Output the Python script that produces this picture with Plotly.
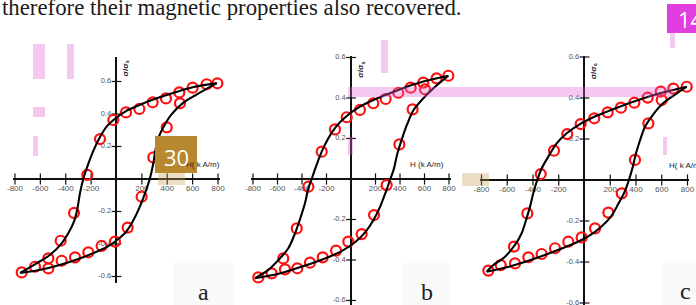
import plotly.graph_objects as go

W, H = 696, 305

# ---------------- data ----------------
x_ticks = [-800, -600, -400, -200, 200, 400, 600, 800]
x_tick_labels = ["-800", "-600", "-400", "-200", "200", "400", "600", "800"]
y_ticks = [0.6, 0.4, 0.2, -0.2, -0.4, -0.6]
y_tick_labels = ["0.6", "0.4", "0.2", "-0.2", "-0.4", "-0.6"]

# panel a
a_pts_up_H = [795, 710, 600, 495, 390, 285, 180, 75, -25, -130, -230, -335, -440, -537, -642, -747]
a_pts_up_S = [0.589, 0.583, 0.562, 0.533, 0.496, 0.472, 0.431, 0.410, 0.363, 0.246, 0.025, -0.209, -0.380, -0.488, -0.540, -0.575]
a_pts_lo_H = [-537, -432, -327, -222, -117, -12, 88, 198, 290, 396, 500]
a_pts_lo_S = [-0.550, -0.503, -0.482, -0.451, -0.412, -0.385, -0.299, -0.109, 0.133, 0.318, 0.466]
a_fit_up_H = [790, 600, 490, 300, 180, 75, -10, -75, -130, -185, -230, -262, -288, -310, -335, -380, -432, -525, -630, -760]
a_fit_up_S = [0.59, 0.565, 0.540, 0.492, 0.455, 0.418, 0.372, 0.325, 0.258, 0.168, 0.076, 0.0, -0.088, -0.191, -0.263, -0.334, -0.396, -0.468, -0.519, -0.578]
a_fit_lo_H = [-760, -600, -490, -300, -180, -75, 10, 75, 130, 185, 230, 262, 288, 310, 335, 380, 432, 525, 630, 790]
a_fit_lo_S = [-0.578, -0.558, -0.538, -0.492, -0.455, -0.418, -0.372, -0.325, -0.258, -0.168, -0.076, 0.0, 0.088, 0.191, 0.263, 0.334, 0.396, 0.468, 0.519, 0.59]

# panel b
b_pts_up_H = [795, 699, 590, 487, 386, 283, 182, 73, -35, -131, -239, -348, -443, -553, -648, -757]
b_pts_up_S = [0.510, 0.497, 0.476, 0.451, 0.426, 0.395, 0.374, 0.341, 0.305, 0.245, 0.135, -0.038, -0.244, -0.392, -0.466, -0.486]
b_pts_lo_H = [-539, -438, -335, -231, -122, -22, 87, 188, 291, 395, 503, 604]
b_pts_lo_S = [-0.446, -0.441, -0.413, -0.387, -0.354, -0.309, -0.272, -0.178, -0.030, 0.171, 0.344, 0.443]
b_fit_up_H = [795, 590, 386, 182, 73, -35, -117, -185, -239, -286, -321, -350, -376, -416, -457, -512, -593, -675, -784]
b_fit_up_S = [0.510, 0.481, 0.440, 0.390, 0.357, 0.311, 0.262, 0.201, 0.135, 0.061, 0.0, -0.05, -0.120, -0.198, -0.268, -0.342, -0.400, -0.449, -0.490]
b_fit_lo_H = [-784, -590, -386, -182, -73, 35, 117, 185, 239, 286, 321, 350, 376, 416, 457, 512, 593, 675, 795]
b_fit_lo_S = [-0.490, -0.468, -0.430, -0.385, -0.355, -0.311, -0.262, -0.201, -0.135, -0.061, 0.0, 0.05, 0.120, 0.198, 0.268, 0.342, 0.400, 0.449, 0.510]

# panel c
c_pts_up_H = [794, 690, 592, 491, 387, 283, 180, 76, -30, -134, -237, -340, -444, -548, -651, -747]
c_pts_up_S = [0.455, 0.446, 0.431, 0.402, 0.377, 0.353, 0.330, 0.301, 0.273, 0.224, 0.143, 0.029, -0.163, -0.325, -0.415, -0.442]
c_pts_lo_H = [-540, -436, -333, -229, -126, -22, 82, 185, 289, 392, 496, 600]
c_pts_lo_S = [-0.407, -0.377, -0.361, -0.333, -0.301, -0.280, -0.236, -0.159, -0.065, 0.098, 0.276, 0.390]
c_fit_up_H = [794, 586, 379, 172, 68, -35, -138, -216, -281, -332, -367, -398, -423, -454, -488, -540, -617, -708, -760]
c_fit_up_S = [0.455, 0.423, 0.382, 0.333, 0.306, 0.273, 0.228, 0.179, 0.114, 0.057, 0.0, -0.065, -0.130, -0.195, -0.260, -0.317, -0.374, -0.415, -0.447]
c_fit_lo_H = [-760, -586, -379, -172, -68, 35, 130, 205, 265, 312, 345, 375, 400, 432, 470, 530, 610, 700, 794]
c_fit_lo_S = [-0.447, -0.423, -0.382, -0.333, -0.306, -0.273, -0.228, -0.179, -0.114, -0.057, 0.0, 0.065, 0.130, 0.195, 0.260, 0.317, 0.374, 0.415, 0.455]

panel_labels = ["a", "b", "c"]
caption = "therefore their magnetic properties also recovered."
x_title = ["H( k A/m)", "H (k A/m)", "H( k A/m)"]

# ---------------- layout geometry ----------------
panels = [
    dict(x0=116.5, sx=0.1269, y0=179, sy=162.5, yr=[-0.64, 0.75],
         pts=(a_pts_up_H, a_pts_up_S, a_pts_lo_H, a_pts_lo_S),
         fit=(a_fit_up_H, a_fit_up_S, a_fit_lo_H, a_fit_lo_S),
         ytitle=(75, 0.68), xtitle=(682, 0.05, "center"), lab=(203, 292), box=(173, 263, 234, 305)),
    dict(x0=351, sx=0.1225, y0=179, sy=202.5, yr=[-0.622, 0.605],
         pts=(b_pts_up_H, b_pts_up_S, b_pts_lo_H, b_pts_lo_S),
         fit=(b_fit_up_H, b_fit_up_S, b_fit_lo_H, b_fit_lo_S),
         ytitle=(82, 0.54), xtitle=(620, 0.04, "center"), lab=(427, 292), box=(402, 263, 449, 305)),
    dict(x0=584.5, sx=0.12875, y0=180, sy=205, yr=[-0.6098, 0.605],
         pts=(c_pts_up_H, c_pts_up_S, c_pts_lo_H, c_pts_lo_S),
         fit=(c_fit_up_H, c_fit_up_S, c_fit_lo_H, c_fit_lo_S),
         ytitle=(74, 0.53), xtitle=(641, 0.04, "left"), lab=(685, 291), box=(663, 263, 696, 305)),
]
XR = [-815, 815]

fig = go.Figure()
shapes = []
annotations = []

xtick_font = dict(family="Liberation Sans, Arial", size=8, color="#555555")
ytick_font = dict(family="Liberation Sans, Arial", size=7.5, color="#555555")
red = "#ff1010"

for i, p in enumerate(panels):
    n = "" if i == 0 else str(i + 1)
    xa, ya = "x" + n, "y" + n
    xdom = [max(0, (p["x0"] + XR[0] * p["sx"]) / W), min(1, (p["x0"] + XR[1] * p["sx"]) / W)]
    ydom = [max(0, 1 - (p["y0"] - p["yr"][0] * p["sy"]) / H), min(1, 1 - (p["y0"] - p["yr"][1] * p["sy"]) / H)]
    common = dict(showgrid=False, showticklabels=False, ticks="", showline=False,
                  zeroline=True, zerolinecolor="#111111", zerolinewidth=1.6, fixedrange=True)
    fig.layout["xaxis" + n] = dict(domain=xdom, range=XR, anchor=ya, **common)
    fig.layout["yaxis" + n] = dict(domain=ydom, range=p["yr"], anchor=xa, **common)

    # faint label box (behind)
    bx = p["box"]
    shapes.append(dict(type="rect", xref="paper", yref="paper", layer="below",
                       x0=bx[0] / W, x1=bx[2] / W, y0=1 - bx[3] / H, y1=1 - bx[1] / H,
                       fillcolor="#f9f9f9", line=dict(width=0)))

    # ticks and tick labels
    fig.add_trace(go.Scatter(x=x_ticks, y=[0] * len(x_ticks), xaxis=xa, yaxis=ya,
                             mode="markers+text", text=x_tick_labels, textposition="bottom center",
                             textfont=xtick_font, cliponaxis=False, hoverinfo="skip",
                             marker=dict(symbol="line-ns", size=8, line=dict(width=1.2, color="#111111"))))
    fig.add_trace(go.Scatter(x=[0] * len(y_ticks), y=y_ticks, xaxis=xa, yaxis=ya,
                             mode="markers+text", text=y_tick_labels, textposition="middle left",
                             textfont=ytick_font, cliponaxis=False, hoverinfo="skip",
                             marker=dict(symbol="line-ew", size=7, line=dict(width=1.2, color="#111111"))))

    uH, uS, lH, lS = p["pts"]
    for hx, sy in ((uH, uS), (lH, lS)):
        fig.add_trace(go.Scatter(x=hx, y=sy, xaxis=xa, yaxis=ya, mode="markers", cliponaxis=False,
                                 marker=dict(symbol="circle-open", size=10, color=red,
                                             line=dict(width=2.2, color=red))))
    fuH, fuS, flH, flS = p["fit"]
    for hx, sy in ((fuH, fuS), (flH, flS)):
        fig.add_trace(go.Scatter(x=hx, y=sy, xaxis=xa, yaxis=ya, mode="lines", cliponaxis=False,
                                 line=dict(color="#000000", width=2.1, shape="spline", smoothing=1.0)))

    # axis titles
    annotations.append(dict(x=p["ytitle"][0], y=p["ytitle"][1], xref=xa, yref=ya, showarrow=False,
                            text="<b>σ/σ<sub>s</sub></b>", textangle=-90, xanchor="center", yanchor="middle",
                            font=dict(family="Liberation Sans, Arial", size=8, color="#222222")))
    annotations.append(dict(x=p["xtitle"][0], y=p["xtitle"][1], xref=xa, yref=ya, showarrow=False,
                            text=x_title[i], xanchor=p["xtitle"][2], yanchor="bottom",
                            font=dict(family="Liberation Sans, Arial", size=8, color="#222222")))
    # panel letter
    annotations.append(dict(x=p["lab"][0] / W, y=1 - p["lab"][1] / H, xref="paper", yref="paper",
                            showarrow=False, text=panel_labels[i], xanchor="center", yanchor="middle",
                            font=dict(family="Liberation Serif, Times New Roman", size=24, color="#222222")))

# caption line at top
annotations.append(dict(x=0, y=1 - 7 / H, xref="paper", yref="paper", xanchor="left", yanchor="middle",
                        showarrow=False, text=caption,
                        font=dict(family="Liberation Serif, Times New Roman", size=22.8, color="#1a1a1a")))

# ---------------- overlay highlights seen in the picture ----------------
def prect(x0, y0, x1, y1, color, layer="above"):
    return dict(type="rect", xref="paper", yref="paper", layer=layer,
                x0=x0 / W, x1=x1 / W, y0=1 - y1 / H, y1=1 - y0 / H,
                fillcolor=color, line=dict(width=0))

pink = "rgba(226,97,211,0.35)"
for r in [(33, 44, 45, 79), (67, 44, 74, 79), (33, 107, 45, 117), (33, 136, 38, 156),
          (381, 40, 388, 73), (348, 87, 673, 97), (348, 137, 353, 155), (663, 137, 667, 155),
          (670, 33, 675, 48)]:
    shapes.append(prect(*r, pink))
tan = "rgba(200,160,90,0.35)"
shapes.append(prect(158, 173, 185, 185, tan))
shapes.append(prect(462, 173, 489, 186, tan))
shapes.append(prect(155, 136, 197, 173, "#b8882e"))
shapes.append(prect(667, 4, 700, 33, "#e03ee0"))
annotations.append(dict(x=176 / W, y=1 - 157 / H, xref="paper", yref="paper", showarrow=False,
                        xanchor="center", yanchor="middle",
                        text="30", font=dict(family="Open Sans", size=22, color="white")))
annotations.append(dict(x=676 / W, y=1 - 19 / H, xref="paper", yref="paper", showarrow=False,
                        xanchor="left", yanchor="middle",
                        text="14", font=dict(family="Open Sans", size=22, color="white")))

fig.update_layout(width=W, height=H, margin=dict(l=0, r=0, t=0, b=0),
                  paper_bgcolor="white", plot_bgcolor="rgba(0,0,0,0)", showlegend=False,
                  shapes=shapes, annotations=annotations)

fig.write_html("out.html", config={"displayModeBar": False},
               post_script="document.body.style.margin='0px';document.body.style.overflow='hidden';")
